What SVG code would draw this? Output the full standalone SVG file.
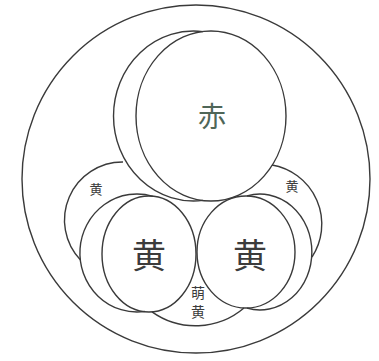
<svg xmlns="http://www.w3.org/2000/svg" width="379" height="361" viewBox="0 0 379 361">
<style>
.ln{fill:none;stroke:#3a3a3a;stroke-width:1.4}
.t{font-family:"Noto Sans CJK JP","Noto Sans CJK SC",sans-serif;text-anchor:middle;fill:#3c3c3c}
</style>
<rect width="379" height="361" fill="#ffffff"/>
<g id="outer"><circle class="ln" cx="196" cy="179" r="174"/></g>
<g id="red">
<ellipse class="ln" cx="211" cy="116" rx="75" ry="85"/>
<text class="t" x="212" y="127" font-size="28" style="fill:#4f6658">赤</text>
</g>
<g id="yellow-left">
<ellipse class="ln" cx="149" cy="254" rx="47" ry="58"/>
<text class="t" x="149" y="268" font-size="34">黄</text>
</g>
<g id="yellow-right">
<ellipse class="ln" cx="246" cy="252" rx="49" ry="56"/>
<text class="t" x="250" y="268" font-size="34">黄</text>
</g>
<g id="small-left"><text class="t" x="96" y="194" font-size="13">黄</text></g>
<g id="small-right"><text class="t" x="292" y="191" font-size="13">黄</text></g>
<g id="moegi"><text class="t" x="198" y="298" font-size="14">萌</text><text class="t" x="198" y="317" font-size="14">黄</text></g>
<g id="connectors">
<path class="ln" d="M203,31.6 A80,85 0 1 0 203,200.4"/>
<path class="ln" d="M153,196.4 A57,59 0 1 0 145,311.4"/>
<path class="ln" d="M247,195.8 A52,58 0 1 1 247,308.2"/>
<path class="ln" d="M123,162 A58,58 0 0 0 80.5,260"/>
<path class="ln" d="M272,165 A60,60 0 0 1 312,257"/>
<path class="ln" d="M152,311.9 A75,75 0 0 0 244,308"/>
</g>
</svg>
